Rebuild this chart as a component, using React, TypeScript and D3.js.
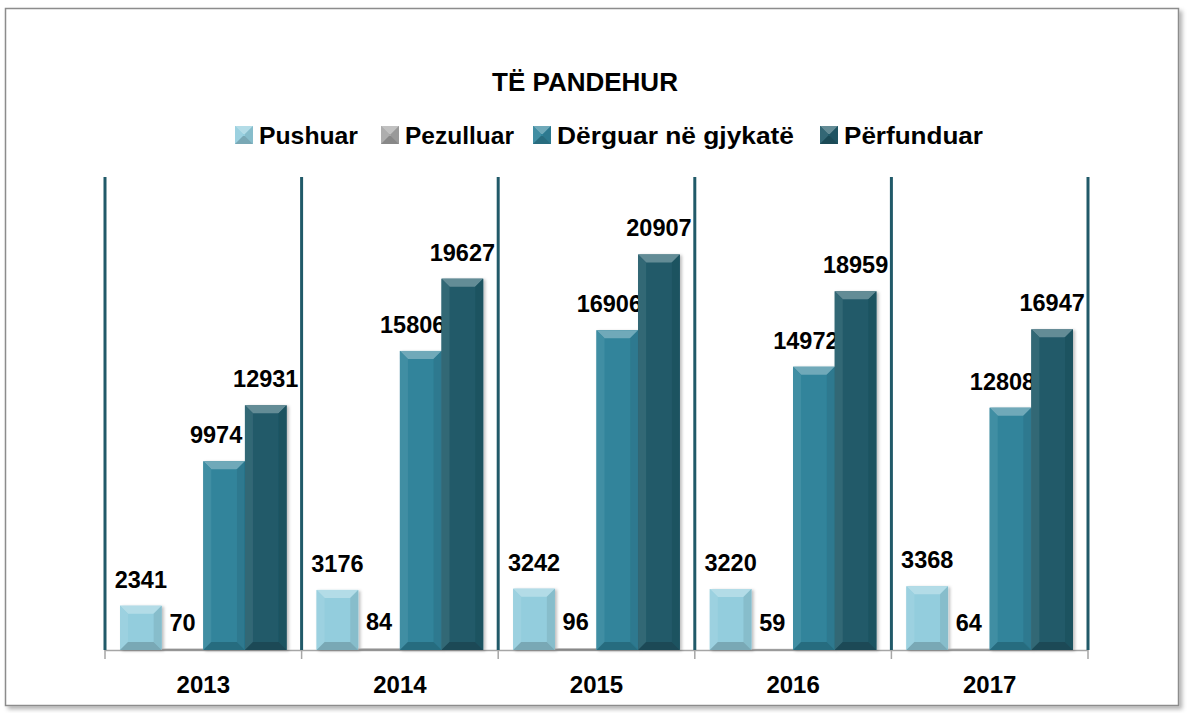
import React from "react";
import * as d3 from "d3";

const years = ["2013", "2014", "2015", "2016", "2017"];
const seriesNames = ["Pushuar", "Pezulluar", "Dërguar në gjykatë", "Përfunduar"];
const pushuar = [2341, 3176, 3242, 3220, 3368];
const pezulluar = [70, 84, 96, 59, 64];
const derguar = [9974, 15806, 16906, 14972, 12808];
const perfunduar = [12931, 19627, 20907, 18959, 16947];
const seriesValues = [pushuar, pezulluar, derguar, perfunduar];
const colors = ["#93cddd", "#a6a6a6", "#31849b", "#215a69"];
const title = "TË PANDEHUR";

const W = 1187, H = 713;
const FONT = "'Liberation Sans', Arial, sans-serif";

function mix(c: string, t: string, k: number) {
  return d3.interpolateRgb(c, t)(k);
}

function BevelRect({ x, y, w, h, color, bev = 8 }: { x: number; y: number; w: number; h: number; color: string; bev?: number }) {
  const b = Math.min(bev, h / 2, w / 2);
  if (h <= 0) return null;
  return (
    <g>
      <rect x={x} y={y} width={w} height={h} fill={color} />
      <polygon points={`${x},${y} ${x + w},${y} ${x + w - b},${y + b} ${x + b},${y + b}`} fill={mix(color, "#ffffff", 0.3)} />
      <polygon points={`${x},${y} ${x + b},${y + b} ${x + b},${y + h - b} ${x},${y + h}`} fill={mix(color, "#ffffff", 0.08)} />
      <polygon points={`${x + w},${y} ${x + w - b},${y + b} ${x + w - b},${y + h - b} ${x + w},${y + h}`} fill={mix(color, "#000000", 0.08)} />
      <polygon points={`${x},${y + h} ${x + b},${y + h - b} ${x + w - b},${y + h - b} ${x + w},${y + h}`} fill={mix(color, "#000000", 0.18)} />
    </g>
  );
}

export default function App() {
  const left = 105, right = 1088, top = 177, bottom = 650;
  const x0 = d3.scaleBand<string>().domain(years).range([left, right]).paddingInner(0).paddingOuter(0);
  const bw = x0.bandwidth();
  const pad = 15;
  const x1 = d3.scaleBand<number>().domain(d3.range(4)).range([pad, bw - pad]).padding(0);
  const y = d3.scaleLinear().domain([0, 25000]).range([bottom, top]);

  const legendX = [235, 381, 533, 820];
  const legendW = [99, 109, 237, 139];
  const labelShift = [0, 0, -8, 0];

  return (
    <svg width={W} height={H} style={{ position: "absolute", left: 0, top: 0 }} fontFamily={FONT}>
      <defs>
        <filter id="sh" x="-5%" y="-5%" width="110%" height="110%">
          <feDropShadow dx="3" dy="3" stdDeviation="2" floodColor="#000" floodOpacity="0.3" />
        </filter>
        <filter id="bs" x="-10%" y="-10%" width="130%" height="120%">
          <feDropShadow dx="2" dy="1" stdDeviation="1.5" floodColor="#000" floodOpacity="0.25" />
        </filter>
      </defs>
      <rect x={0} y={0} width={W} height={H} fill="#fff" />
      <rect x={5.5} y={8.5} width={1173} height={697} fill="#fff" stroke="#8c8c8c" strokeWidth={1.5} filter="url(#sh)" />
      <text x={585} y={91} textAnchor="middle" fontSize={26} fontWeight="bold" fill="#000">{title}</text>
      {seriesNames.map((n, i) => (
        <g key={n}>
          <BevelRect x={legendX[i]} y={126} w={18} h={18} color={colors[i]} bev={8} />
          <text x={legendX[i] + 24} y={144} fontSize={24} fontWeight="bold" fill="#000" textLength={legendW[i]} lengthAdjust="spacingAndGlyphs">{n}</text>
        </g>
      ))}
      <line x1={left} x2={right} y1={bottom + 0.5} y2={bottom + 0.5} stroke="#a6a6a6" strokeWidth={1.5} />
      {years.concat(["end"]).map((yr, i) => {
        const xx = i < years.length ? x0(yr)! : right;
        return (
          <g key={yr + i}>
            <line x1={xx} x2={xx} y1={bottom} y2={bottom + 9} stroke="#a6a6a6" strokeWidth={1.5} />
            <line x1={xx} x2={xx} y1={top} y2={bottom} stroke="#215a69" strokeWidth={3} />
          </g>
        );
      })}
      {years.map((yr, j) => (
        <g key={yr}>
          {seriesValues.map((vals, i) => {
            const bx = x0(yr)! + x1(i)!;
            const by = y(vals[j]);
            const bwi = x1.bandwidth();
            return (
              <g key={i}>
                <g filter="url(#bs)">
                  <BevelRect x={bx} y={by} w={bwi} h={bottom - by} color={colors[i]} />
                </g>
                <text x={bx + bwi / 2 + labelShift[i]} y={by - 18} textAnchor="middle" fontSize={23.5} fontWeight="bold" fill="#000">{vals[j]}</text>
              </g>
            );
          })}
          <text x={x0(yr)! + bw / 2} y={693} textAnchor="middle" fontSize={24} fontWeight="bold" fill="#000">{yr}</text>
        </g>
      ))}
    </svg>
  );
}
